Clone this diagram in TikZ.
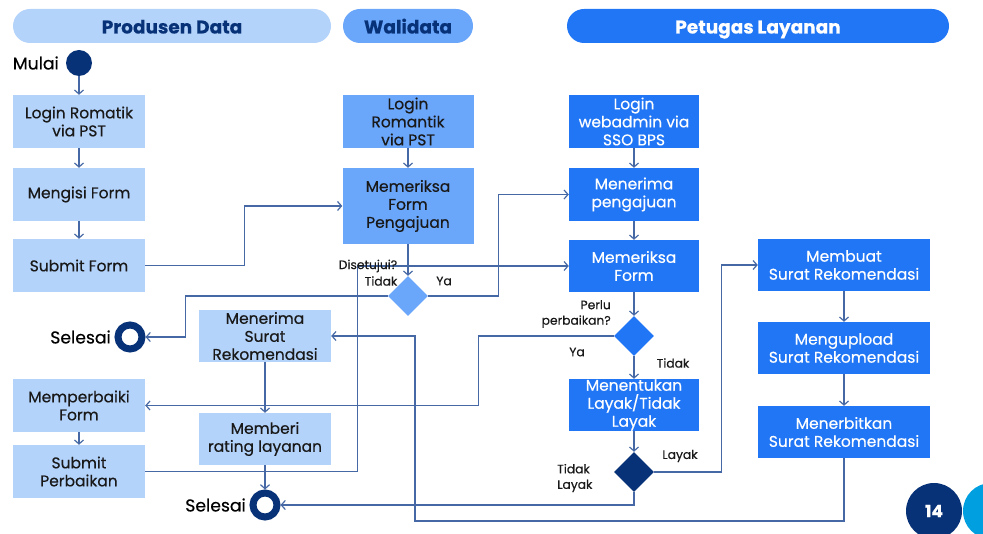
\documentclass[tikz,border=0pt]{standalone}
\usepackage{fontspec}
\setmainfont{Poppins}[FakeBold=0.4]
\usetikzlibrary{shapes.geometric,arrows.meta}
\definecolor{lb}{RGB}{180,211,250}
\definecolor{mb}{RGB}{106,166,250}
\definecolor{bb}{RGB}{33,118,245}
\definecolor{navy}{RGB}{8,50,120}
\definecolor{lc}{RGB}{70,105,165}
\definecolor{cy}{RGB}{0,160,224}
\definecolor{tx}{RGB}{25,25,25}
\begin{document}
\begin{tikzpicture}[x=1pt,y=-1pt,
 box/.style={rectangle, inner sep=0pt, align=center, font=\fontsize{15.5}{18}\selectfont, text=tx},
 pbox/.style={box, fill=lb, minimum width=132pt, minimum height=53pt},
 wbox/.style={box, fill=mb, minimum width=131pt, minimum height=53pt},
 tbox/.style={box, fill=bb, text=white, minimum width=130pt, minimum height=53pt},
 rbox/.style={box, fill=bb, text=white, minimum width=172pt, minimum height=52pt},
 hdr/.style={rectangle, rounded corners=17pt, minimum height=34pt, inner sep=0pt, text height=15pt, text depth=0pt, font=\fontsize{18.5}{20}\selectfont\bfseries},
 dia/.style={diamond, aspect=1, inner sep=0pt, minimum width=40pt, minimum height=40pt},
 arr/.style={draw=lc, line width=1.2pt, -{Straight Barb[length=4pt,width=9pt]}},
 lbl/.style={font=\fontsize{12.3}{15.5}\selectfont, text=tx, inner sep=0pt},
 big/.style={font=\fontsize{17.2}{20}\selectfont, text=black, inner sep=0pt},
 endc/.style={circle, draw=navy, line width=7pt, fill=white, minimum size=24pt, inner sep=0pt, outer sep=3.5pt},
]
\useasboundingbox (0,0) rectangle (983,534);

% headers
\node[hdr, fill=lb, text=navy, minimum width=318pt] (hP) at (172,26) {Produsen Data};
\node[hdr, fill=mb, text=navy, minimum width=130pt] (hW) at (408,26) {Walidata};
\node[hdr, fill=bb, text=white, minimum width=382pt] (hT) at (758,26) {Petugas Layanan};

% start
\node[circle, fill=navy, minimum size=26pt, inner sep=0pt] (mulai) at (79,63) {};
\node[big, anchor=east] (lmulai) at (59,63) {Mulai};

% Produsen Data
\node[pbox] (p1) at (79,121.5) {Login Romatik\\via PST};
\node[pbox] (p2) at (79,194.5) {Mengisi Form};
\node[pbox] (p3) at (79,265.5) {Submit Form};
\node[pbox] (p4) at (79,405.5) {Memperbaiki\\Form};
\node[pbox] (p5) at (79,471.5) {Submit\\Perbaikan};

% Walidata
\node[wbox] (w1) at (408,121.5) {Login\\Romantik\\via PST};
\node[wbox, minimum height=76pt] (w2) at (408,206) {Memeriksa\\Form\\Pengajuan};
\node[dia, fill=mb] (d1) at (408,296) {};
\node[pbox, minimum height=52pt] (w3) at (265,336) {Menerima\\Surat\\Rekomendasi};
\node[pbox, minimum height=52pt] (w4) at (265,439) {Memberi\\rating layanan};

% end nodes
\node[endc] (s1) at (130,337) {};
\node[big, anchor=east] (ls1) at (111,337) {Selesai};
\node[endc] (s2) at (265,505) {};
\node[big, anchor=east] (ls2) at (246,505) {Selesai};

% Petugas Layanan
\node[tbox] (t1) at (634,121.5) {Login\\webadmin via\\SSO BPS};
\node[tbox] (t2) at (634,194.5) {Menerima\\pengajuan};
\node[tbox, minimum height=52pt] (t3) at (634,266) {Memeriksa\\Form};
\node[dia, fill=bb] (d2) at (634,336) {};
\node[tbox, minimum height=52pt] (t4) at (634,405) {Menentukan\\Layak/Tidak\\Layak};
\node[dia, fill=navy] (d3) at (634,472) {};

\node[rbox] (r1) at (844,265) {Membuat\\Surat Rekomendasi};
\node[rbox] (r2) at (844,348) {Mengupload\\Surat Rekomendasi};
\node[rbox] (r3) at (844,432) {Menerbitkan\\Surat Rekomendasi};

% page number
\fill[cy] (991,511) circle (28pt);
\node[circle, fill=navy, minimum size=56pt, inner sep=0pt, text=white, font=\fontsize{17}{20}\selectfont\bfseries] (pg) at (934,511) {14};

% connectors
\draw[arr] (mulai) -- (p1);
\draw[arr] (p1) -- (p2);
\draw[arr] (p2) -- (p3);
\draw[arr] (p4) -- (p5);
\draw[arr] (p3.east) -- ++(99,0) |- (w2.west);
\draw[arr] (w1) -- (w2);
\draw[arr] (w2) -- (d1);
\draw[arr] (d1.west) -- ++(-202,0) |- (s1.east);
\draw[arr] (d1.east) -- ++(70,0) |- (t2.west);
\draw[arr] (p5.east) -- ++(212,0) |- (t3.west);
\draw[arr] (t1) -- (t2);
\draw[arr] (t2) -- (t3);
\draw[arr] (t3) -- (d2);
\draw[arr] (d2.west) -- ++(-135,0) |- (p4.east);
\draw[arr] (d2) -- (t4);
\draw[arr] (t4) -- (d3);
\draw[arr] (d3.east) -- ++(67,0) |- (r1.west);
\draw[arr] (d3.south) |- (s2.east);
\draw[arr] (r1) -- (r2);
\draw[arr] (r2) -- (r3);
\coordinate (b1) at (415,521);
\draw[arr] (r3.south) |- (b1) |- (w3.east);
\draw[arr] (w3) -- (w4);
\draw[arr] (w4) -- (s2);

% labels
\node[lbl] (ld) at (368,266) {Disetujui?};
\node[lbl] (lt1) at (381,281) {Tidak};
\node[lbl] (ly1) at (444,281) {Ya};
\node[lbl, align=right, anchor=east] (lp) at (611,314) {Perlu\\perbaikan?};
\node[lbl] (ly2) at (577,352) {Ya};
\node[lbl] (lt2) at (673,363) {Tidak};
\node[lbl] (ll) at (680,456) {Layak};
\node[lbl, align=left, anchor=west] (ltl) at (557,478) {Tidak\\Layak};
\end{tikzpicture}
\end{document}
